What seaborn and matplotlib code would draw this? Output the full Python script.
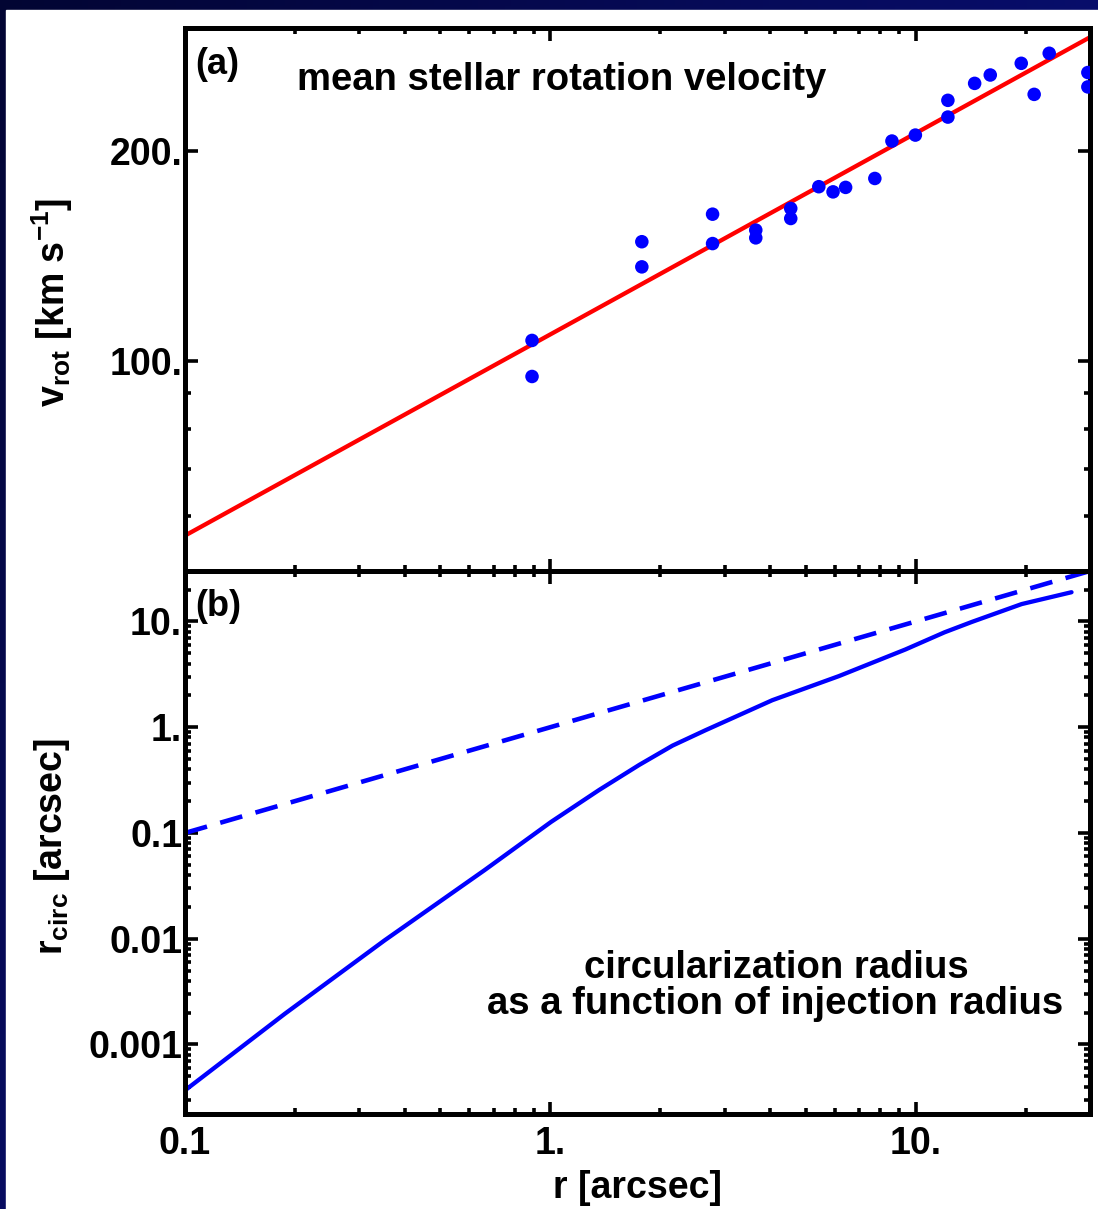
import numpy as np
import matplotlib
matplotlib.use("Agg")
import matplotlib.pyplot as plt
from matplotlib.ticker import FixedLocator, FixedFormatter, NullFormatter, LogLocator
from matplotlib.patches import Rectangle
import seaborn as sns

# ---- data -------------------------------------------------------------
# (a) mean stellar rotation velocity measurements
r_obs = [0.891, 0.891, 1.78, 1.78, 2.78, 2.78, 3.65, 3.65, 4.55, 4.55,
         5.43, 5.94, 6.43, 7.73, 8.61, 9.98, 12.25, 12.25, 14.5, 16.0,
         19.45, 21.1, 23.2, 29.6, 29.6]
v_obs = [107.0, 95.0, 148.2, 136.4, 162.3, 147.3, 154.0, 150.1, 165.4, 160.0,
         177.7, 174.7, 177.3, 182.6, 206.6, 210.7, 236.3, 223.6, 249.9, 256.9,
         267.0, 241.0, 276.0, 259.0, 247.0]

# power-law fit to the rotation curve (end points)
r_fit = [0.1, 30.0]
v_fit = [56.2, 291.0]

# (b) circularization radius vs injection radius
r_inj = [0.1, 0.1876, 0.352, 0.660, 1.004, 1.36, 1.751, 2.16, 2.66, 4.05,
         6.16, 9.37, 12.0, 14.25, 19.5, 26.7]
r_circ = [3.68e-4, 1.95e-3, 9.66e-3, 0.0444, 0.127, 0.255, 0.44, 0.67, 0.937,
          1.80, 3.04, 5.43, 7.9, 9.9, 14.6, 18.9]

# reference line r_circ = r
r_ident = [0.1, 30.0]

# tick labels
x_ticks = [0.1, 1.0, 10.0]
x_ticklabels = ["0.1", "1.", "10."]
v_ticks = [100, 200]
v_ticklabels = ["100.", "200."]
v_minor = [60, 70, 80, 90]
rc_ticks = [0.001, 0.01, 0.1, 1.0, 10.0]
rc_ticklabels = ["0.001", "0.01", "0.1", "1.", "10."]

# ---- style ------------------------------------------------------------
sns.set_theme(style="ticks")
plt.rcParams["font.family"] = ["Liberation Sans", "DejaVu Sans"]
plt.rcParams["font.weight"] = "bold"
plt.rcParams["axes.labelweight"] = "bold"
plt.rcParams["text.color"] = "black"
plt.rcParams["axes.labelcolor"] = "black"

W, H = 1098, 1209
fig = plt.figure(figsize=(W / 100, H / 100), dpi=100)

# slide background: dark blue gradient with a white panel
bg = fig.add_axes([0, 0, 1, 1], zorder=-10)
bg.set_axis_off()
gx = np.linspace(0, 1, 200)[None, :]
gy = np.linspace(0, 1, 200)[:, None]
t = 0.55 * gx + 0.45 * gy
dark = np.array([0.01, 0.02, 0.20])
bright = np.array([0.05, 0.08, 0.60])
grad = dark[None, None, :] + t[:, :, None] * (bright - dark)[None, None, :]
bg.imshow(grad, extent=[0, 1, 0, 1], aspect="auto", origin="upper")
bg.set_xlim(0, 1)
bg.set_ylim(0, 1)
bg.add_patch(Rectangle((6 / W, 0), 1, 1 - 10 / H, color="white", transform=bg.transAxes))

left, right = 185 / W, 1090 / W
top1, mid, bot2 = 1 - 28 / H, 1 - 571 / H, 1 - 1114 / H
ax1 = fig.add_axes([left, mid, right - left, top1 - mid])
ax2 = fig.add_axes([left, bot2, right - left, mid - bot2], sharex=ax1)

for ax in (ax1, ax2):
    ax.set_facecolor("none")
    ax.set_xscale("log")
    ax.set_yscale("log")

# ---- panel (a) --------------------------------------------------------
sns.lineplot(x=r_fit, y=v_fit, ax=ax1, color="#ff0000", lw=3.1, zorder=2)
sns.scatterplot(x=r_obs, y=v_obs, ax=ax1, color="#0000ff", s=95,
                edgecolor="none", zorder=3)
ax1.set_xlim(0.1, 30)
ax1.set_ylim(50, 300)
ax1.yaxis.set_major_locator(FixedLocator(v_ticks))
ax1.yaxis.set_major_formatter(FixedFormatter(v_ticklabels))
ax1.yaxis.set_minor_locator(FixedLocator(v_minor))
ax1.yaxis.set_minor_formatter(NullFormatter())
ax1.set_ylabel(r"v$_\mathregular{rot}$ [km s$^\mathregular{-1}$]", fontsize=27,
               fontweight="bold", va="center", color="black")
ax1.yaxis.set_label_coords(-0.147, 0.495)
ax1.text(0.011, 0.932, "(a)", transform=ax1.transAxes, fontsize=26,
         fontweight="bold", ha="left", va="center", color="black")
ax1.text(0.124, 0.904, "mean stellar rotation velocity", transform=ax1.transAxes,
         fontsize=27.5, fontweight="bold", ha="left", va="center", color="black")
plt.setp(ax1.get_xticklabels(), visible=False)

# ---- panel (b) --------------------------------------------------------
sns.lineplot(x=r_ident, y=r_ident, ax=ax2, color="#0000ff", lw=3.3,
             linestyle=(0, (5.0, 3.0)))
sns.lineplot(x=r_inj, y=r_circ, ax=ax2, color="#0000ff", lw=3.1, sort=False)
ax2.set_xlim(0.1, 30)
ax2.set_ylim(2.2e-4, 30)
ax2.yaxis.set_major_locator(FixedLocator(rc_ticks))
ax2.yaxis.set_major_formatter(FixedFormatter(rc_ticklabels))
ax2.yaxis.set_minor_locator(LogLocator(base=10, subs=np.arange(2, 10)))
ax2.yaxis.set_minor_formatter(NullFormatter())
ax2.xaxis.set_major_locator(FixedLocator(x_ticks))
ax2.xaxis.set_major_formatter(FixedFormatter(x_ticklabels))
ax2.xaxis.set_minor_locator(LogLocator(base=10, subs=np.arange(2, 10)))
ax2.xaxis.set_minor_formatter(NullFormatter())
ax2.set_ylabel(r"r$_\mathregular{circ}$ [arcsec]", fontsize=27,
               fontweight="bold", va="center", color="black")
ax2.yaxis.set_label_coords(-0.147, 0.492)
ax2.set_xlabel("r [arcsec]", fontsize=27, fontweight="bold", va="center", color="black")
ax2.xaxis.set_label_coords(0.5, -0.136)
ax2.text(0.011, 0.934, "(b)", transform=ax2.transAxes, fontsize=26,
         fontweight="bold", ha="left", va="center", color="black")
ax2.text(0.653, 0.269, "circularization radius", transform=ax2.transAxes,
         fontsize=27.5, fontweight="bold", ha="center", va="center", color="black")
ax2.text(0.6525, 0.203, "as a function of injection radius", transform=ax2.transAxes,
         fontsize=27.5, fontweight="bold", ha="center", va="center", color="black")

# ---- axes frame and ticks --------------------------------------------
for ax in (ax1, ax2):
    for sp in ax.spines.values():
        sp.set_visible(True)
        sp.set_linewidth(3.6)
        sp.set_color("black")
    ax.tick_params(which="both", direction="in", top=True, right=True,
                   bottom=True, left=True, color="black", labelcolor="black")
    ax.tick_params(which="major", length=9, width=2.6, labelsize=27, pad=2)
    ax.tick_params(which="minor", length=4.5, width=2.6)
    ax.tick_params(axis="x", which="major", pad=9)
    for lab in ax.get_xticklabels() + ax.get_yticklabels():
        lab.set_fontweight("bold")

fig.savefig("out.png", dpi=100)
